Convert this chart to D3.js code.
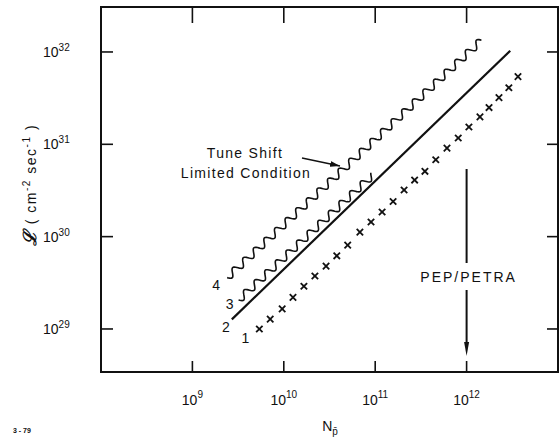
<!DOCTYPE html>
<html>
<head>
<meta charset="utf-8">
<script src="https://cdn.jsdelivr.net/npm/d3@7"></script>
<style>
  html, body { margin: 0; padding: 0; background: #fff; }
  svg { display: block; }
  text { font-family: "Liberation Sans", Arial, sans-serif; fill: #111; }
</style>
</head>
<body>
<svg id="chart" width="560" height="438"></svg>
<script>
// ---- data ----
const xTickValues = [1e9, 1e10, 1e11, 1e12];
const xTickExps = ["9", "10", "11", "12"];
const yTickValues = [1e29, 1e30, 1e31, 1e32];
const yTickExps = ["29", "30", "31", "32"];

// Curve 1 (crosses)
const s1N = [5.4e9, 7.1e9, 9.6e9, 1.26e10, 1.66e10, 2.19e10, 2.9e10, 3.8e10, 5.0e10, 6.8e10,
             9.0e10, 1.19e11, 1.57e11, 2.07e11, 2.7e11, 3.5e11, 4.6e11, 6.1e11, 8.1e11, 1.06e12,
             1.40e12, 1.76e12, 2.26e12, 2.9e12, 3.65e12];
const s1L = [1.0e29, 1.28e29, 1.65e29, 2.2e29, 2.9e29, 3.75e29, 4.8e29, 6.2e29, 8.1e29, 1.12e30,
             1.44e30, 1.85e30, 2.4e30, 3.2e30, 4.1e30, 5.1e30, 6.8e30, 9.1e30, 1.17e31, 1.54e31,
             1.98e31, 2.5e31, 3.2e31, 4.1e31, 5.4e31];
// Curve 2 (solid)
const s2N = [2.7e9, 3.0e12];
const s2L = [1.27e29, 1.03e32];
// Curve 3 (wavy, tune shift limited)
const s3N = [3.2e9, 9.5e10];
const s3L = [2.06e29, 4.7e30];
// Curve 4 (wavy, tune shift limited)
const s4N = [2.4e9, 1.47e12];
const s4L = [3.6e29, 1.35e32];

const curveLabels = ["1", "2", "3", "4"];
const pepN = 1e12;

// ---- layout ----
const svg = d3.select("#chart");
const pL = 101, pR = 558, pT = 7, pB = 372;

const x = d3.scaleLog().domain([1e8, 1e13]).range([pL, pR]);
const y = d3.scaleLog().domain([Math.pow(10, 28.534), Math.pow(10, 32.487)]).range([pB, pT]);

// frame
svg.append("rect")
  .attr("x", pL).attr("y", pT)
  .attr("width", pR - pL).attr("height", pB - pT)
  .attr("fill", "none").attr("stroke", "#111").attr("stroke-width", 2);

// axes (inward ticks)
const gAxes = svg.append("g").attr("stroke", "#111").attr("stroke-width", 1.6);
xTickValues.forEach(v => {
  gAxes.append("line").attr("x1", x(v)).attr("x2", x(v)).attr("y1", pB).attr("y2", pB - 11);
  gAxes.append("line").attr("x1", x(v)).attr("x2", x(v)).attr("y1", pT).attr("y2", pT + 16);
});
yTickValues.forEach(v => {
  gAxes.append("line").attr("x1", pL).attr("x2", pL + 12).attr("y1", y(v)).attr("y2", y(v));
  gAxes.append("line").attr("x1", pR).attr("x2", pR - 11).attr("y1", y(v)).attr("y2", y(v));
});

// tick labels
xTickValues.forEach((v, i) => {
  const t = svg.append("text").attr("x", x(v)).attr("y", 405)
    .attr("text-anchor", "middle").attr("font-size", 14);
  t.append("tspan").text("10");
  t.append("tspan").attr("dy", -7).attr("font-size", 10).text(xTickExps[i]);
});
yTickValues.forEach((v, i) => {
  const t = svg.append("text").attr("x", 43).attr("y", y(v) + 5)
    .attr("font-size", 14);
  t.append("tspan").text("10");
  t.append("tspan").attr("dy", -6).attr("font-size", 10).text(yTickExps[i]);
});

// axis titles
const xt = svg.append("text").attr("x", 330).attr("y", 431)
  .attr("text-anchor", "middle").attr("font-size", 14);
xt.append("tspan").text("N");
xt.append("tspan").attr("dy", 4).attr("font-size", 10).text("p\u0304");

const yt = svg.append("text")
  .attr("transform", "translate(36,185) rotate(-90)")
  .attr("text-anchor", "middle").attr("font-size", 14).attr("letter-spacing", 1.5);
yt.append("tspan").attr("font-family", "DejaVu Serif").attr("font-style", "italic")
  .attr("font-weight", "bold").attr("font-size", 18).text("\u2112");
yt.append("tspan").text("  ( cm");
yt.append("tspan").attr("dy", -6).attr("font-size", 10).text("-2");
yt.append("tspan").attr("dy", 6).text("  sec");
yt.append("tspan").attr("dy", -6).attr("font-size", 10).text("-1");
yt.append("tspan").attr("dy", 6).text(" )");

// ---- curves ----
const lineGen = d3.line().x(d => x(d[0])).y(d => y(d[1]));
svg.append("path")
  .datum(d3.zip(s2N, s2L))
  .attr("d", lineGen)
  .attr("fill", "none").attr("stroke", "#111").attr("stroke-width", 2.2);

function wavyPath(pts, amp, wl) {
  const a = [x(pts[0][0]), y(pts[0][1])];
  const b = [x(pts[1][0]), y(pts[1][1])];
  const dx = b[0] - a[0], dy = b[1] - a[1];
  const len = Math.hypot(dx, dy);
  const ux = dx / len, uy = dy / len, nx = -uy, ny = ux;
  const out = [];
  for (let s = 0; s <= len; s += 0.7) {
    const off = amp * Math.sin(2 * Math.PI * s / wl);
    out.push([a[0] + ux * s + nx * off, a[1] + uy * s + ny * off]);
  }
  return d3.line()(out);
}
[[s3N, s3L], [s4N, s4L]].forEach(([n, l]) => {
  svg.append("path")
    .attr("d", wavyPath(d3.zip(n, l), 3.6, 14.5))
    .attr("fill", "none").attr("stroke", "#111").attr("stroke-width", 1.6);
});

const gC = svg.append("g").attr("stroke", "#111").attr("stroke-width", 1.8);
d3.zip(s1N, s1L).forEach(d => {
  const cx = x(d[0]), cy = y(d[1]), r = 3.2;
  gC.append("line").attr("x1", cx - r).attr("y1", cy - r).attr("x2", cx + r).attr("y2", cy + r);
  gC.append("line").attr("x1", cx - r).attr("y1", cy + r).attr("x2", cx + r).attr("y2", cy - r);
});

const starts = [[s1N[0], s1L[0], -14, 14], [s2N[0], s2L[0], -6, 13], [s3N[0], s3L[0], -9, 9], [s4N[0], s4L[0], -11, 12]];
starts.forEach((s, i) => {
  svg.append("text").attr("x", x(s[0]) + s[2]).attr("y", y(s[1]) + s[3])
    .attr("text-anchor", "middle").attr("font-size", 14).text(curveLabels[i]);
});

const ann = svg.append("text").attr("text-anchor", "middle").attr("font-size", 14).attr("letter-spacing", 1.3);
ann.append("tspan").attr("x", 245).attr("y", 158).text("Tune Shift");
ann.append("tspan").attr("x", 246).attr("y", 178).text("Limited Condition");

svg.append("defs").append("marker")
  .attr("id", "ah").attr("viewBox", "0 0 10 6").attr("refX", 10).attr("refY", 3)
  .attr("markerWidth", 10).attr("markerHeight", 6).attr("markerUnits", "userSpaceOnUse")
  .attr("orient", "auto")
  .append("path").attr("d", "M0,0 L10,3 L0,6 Z").attr("fill", "#111");

svg.append("line").attr("x1", 302).attr("y1", 158).attr("x2", 340).attr("y2", 166)
  .attr("stroke", "#111").attr("stroke-width", 1.5).attr("marker-end", "url(#ah)");

const px = x(pepN);
svg.append("line").attr("x1", px).attr("x2", px).attr("y1", 169).attr("y2", 263)
  .attr("stroke", "#111").attr("stroke-width", 2);
svg.append("text").attr("x", px + 2).attr("y", 282).attr("text-anchor", "middle")
  .attr("font-size", 14).attr("letter-spacing", 2).text("PEP/PETRA");
svg.append("line").attr("x1", px).attr("x2", px).attr("y1", 290).attr("y2", 344)
  .attr("stroke", "#111").attr("stroke-width", 2);
svg.append("path")
  .attr("d", `M${px - 2.5},${342} L${px + 2.5},${342} L${px},${356} Z`)
  .attr("fill", "#111");

svg.append("text").attr("x", 13).attr("y", 433).attr("font-size", 7).attr("font-weight", "bold").text("3 - 79");
</script>
</body>
</html>
